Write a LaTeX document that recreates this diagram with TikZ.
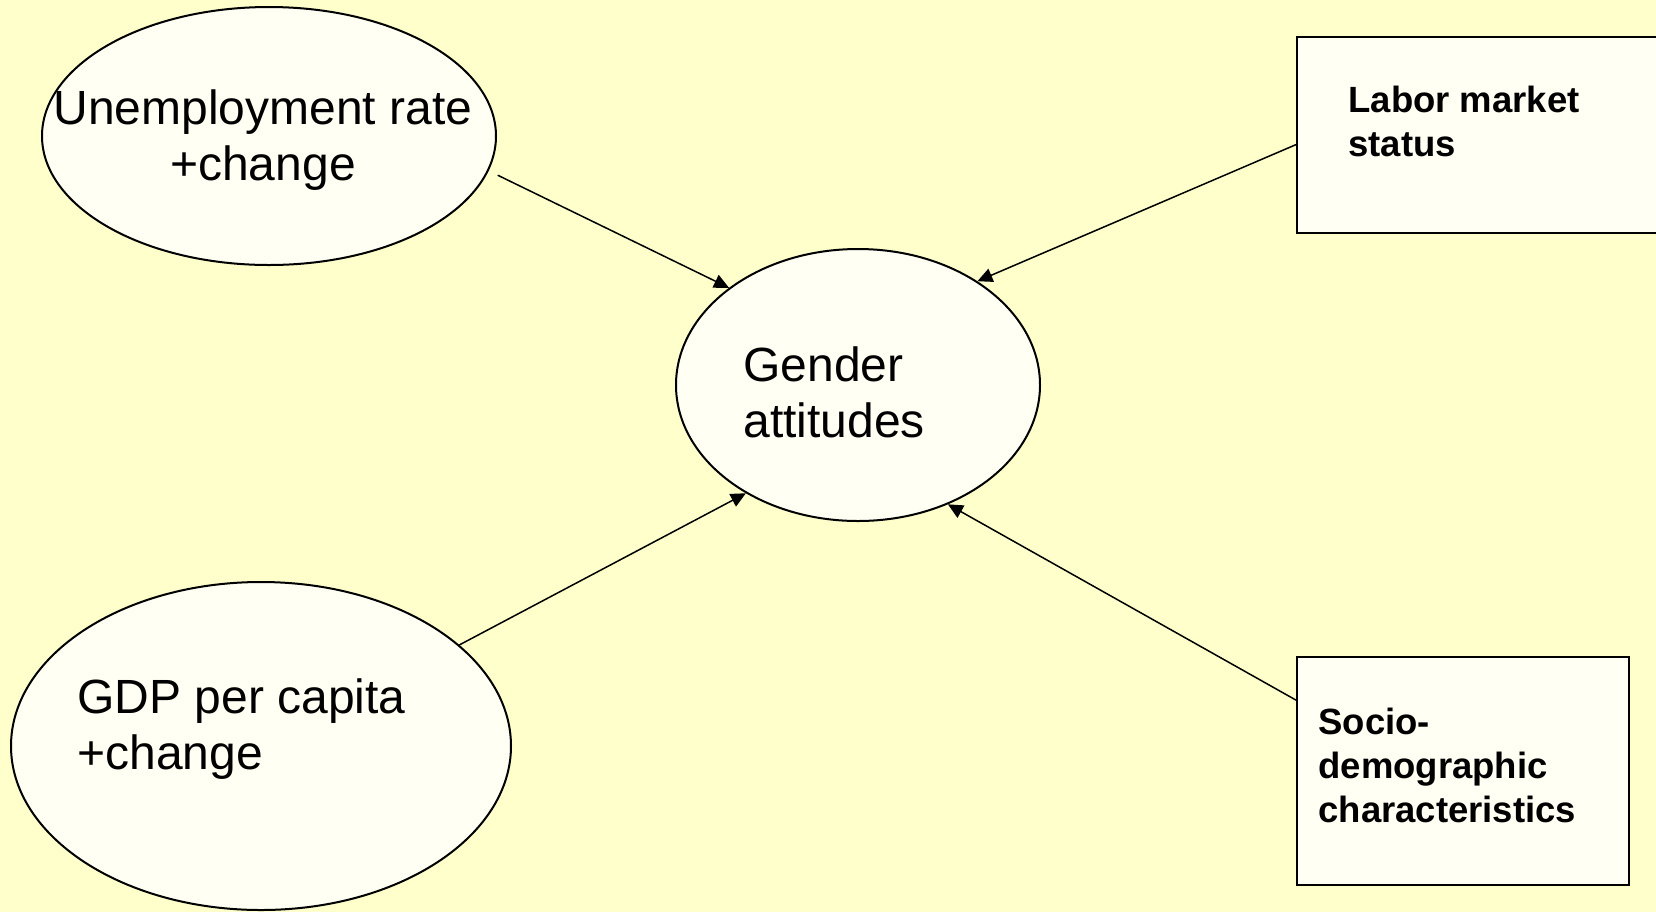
\documentclass[tikz,border=0pt]{standalone}
\usepackage{fontspec}
\setmainfont{Liberation Sans}
\usetikzlibrary{arrows.meta, positioning, shapes.geometric}
\definecolor{slidebg}{HTML}{FFFFCC}
\definecolor{shapefill}{HTML}{FFFFF4}

\begin{document}
\begin{tikzpicture}[x=0.5pt, y=-0.5pt,
    oval/.style={ellipse, draw=black, line width=1pt, fill=shapefill, inner sep=0pt},
    boxnode/.style={rectangle, draw=black, line width=1pt, fill=shapefill, inner sep=0pt},
    bigtxt/.style={font=\fontsize{24}{28}\selectfont, inner sep=0pt},
    boldtxt/.style={font=\fontsize{18.25}{22}\selectfont\bfseries, align=left, inner sep=0pt},
    link/.style={-{Triangle[length=7.5pt, width=7pt]}, line width=0.75pt}]
    % Background
    \clip (0,0) rectangle (1656,912);
    \fill[slidebg] (0,0) rectangle (1656,912);
    % Ellipses
    \node[oval, minimum width=227pt, minimum height=129pt] (unemp) at (269,136) {};
    \node[oval, minimum width=182pt, minimum height=136pt] (gender) at (858,385) {};
    \node[oval, minimum width=250pt, minimum height=164pt] (gdp) at (261,746) {};
    % Boxes
    \node[boxnode, minimum width=182.5pt, minimum height=98pt] (labor) at (1479.5,135) {};
    \node[boxnode, minimum width=166pt, minimum height=114pt] (socio) at (1463,771) {};
    % Texts
    \node[bigtxt, align=center] (unemptxt) at (263,140) {Unemployment rate\\+change};
    \node[bigtxt, align=left, anchor=west] (gendertxt) at (743,392.5) {Gender\\attitudes};
    \node[bigtxt, align=left, anchor=west] (gdptxt) at (77,729) {GDP per capita\\+change};
    \node[boldtxt, anchor=west] (labortxt) at (1348,121.5) {Labor market\\status};
    \node[boldtxt, anchor=west] (sociotxt) at (1318,765) {Socio-\\demographic\\characteristics};
    % Arrows
    \draw[link, shorten <=5pt] (unemp.-9) -- (gender.143);
    \draw[link] (labor.183) -- (gender.41);
    \draw[link] (gdp.27) -- (gender.224);
    \draw[link] (socio.157) -- (gender.-53);
\end{tikzpicture}
\end{document}
